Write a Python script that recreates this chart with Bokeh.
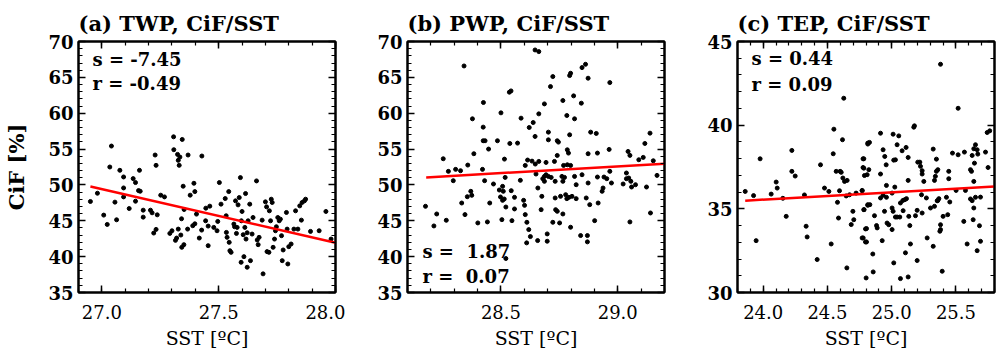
from bokeh.plotting import figure
from bokeh.layouts import row
from bokeh.models import Range1d, LinearAxis, SingleIntervalTicker, PrintfTickFormatter, Label
from bokeh.embed import file_html
from bokeh.resources import INLINE

FONT = "DejaVu Serif"

# ---------------- data ----------------
titles = ["(a) TWP, CiF/SST", "(b) PWP, CiF/SST", "(c) TEP, CiF/SST"]
x_label = "SST [\u00baC]"
y_label = "CiF [%]"
stats_s = ["s = -7.45", "s =\u00a0\u00a01.87", "s = 0.44"]
stats_r = ["r = -0.49", "r =\u00a0\u00a00.07", "r = 0.09"]

a_sst = [26.951, 26.981, 27.008, 27.023, 27.034, 27.041, 27.056, 27.063, 27.077, 27.093,
         27.093, 27.093, 27.117, 27.134, 27.144, 27.144, 27.157, 27.161, 27.164, 27.177,
         27.177, 27.208, 27.215, 27.222, 27.228, 27.232, 27.232, 27.237, 27.252, 27.268,
         27.291, 27.300, 27.307, 27.308, 27.315, 27.320, 27.327, 27.327, 27.331, 27.324,
         27.334, 27.338, 27.341, 27.344, 27.348, 27.342, 27.351, 27.352, 27.369, 27.367,
         27.378, 27.389, 27.394, 27.398, 27.398, 27.405, 27.428, 27.417, 27.427, 27.444,
         27.445, 27.455, 27.462, 27.455, 27.479, 27.493, 27.496, 27.503, 27.510, 27.528,
         27.532, 27.533, 27.536, 27.543, 27.545, 27.548, 27.553, 27.565, 27.568, 27.572,
         27.576, 27.579, 27.583, 27.588, 27.593, 27.596, 27.597, 27.600, 27.605, 27.608,
         27.612, 27.615, 27.617, 27.622, 27.622, 27.626, 27.633, 27.636, 27.643, 27.647,
         27.662, 27.665, 27.669, 27.673, 27.686, 27.690, 27.700, 27.705, 27.707, 27.715,
         27.717, 27.722, 27.725, 27.729, 27.733, 27.739, 27.743, 27.747, 27.753, 27.759,
         27.764, 27.769, 27.772, 27.776, 27.790, 27.793, 27.796, 27.800, 27.810, 27.822,
         27.829, 27.839, 27.847, 27.854, 27.857, 27.867, 27.872, 27.893, 27.930, 27.959,
         27.981]
a_cif = [47.69, 48.84, 45.79, 44.49, 52.50, 55.42, 47.60, 45.14, 52.04, 51.11,
         49.58, 48.33, 46.71, 50.88, 50.33, 47.73, 49.21, 52.04, 49.12, 45.51,
         46.48, 46.48, 46.11, 43.29, 54.17, 52.73, 43.80, 45.83, 48.57, 48.33,
         43.24, 43.61, 56.71, 54.91, 42.27, 42.59, 43.84, 53.43, 52.73, 54.26,
         53.89, 43.01, 45.28, 56.34, 49.82, 41.30, 41.67, 46.57, 54.17, 43.84,
         48.57, 44.31, 50.23, 49.07, 44.58, 45.93, 54.03, 42.59, 43.70, 45.00,
         46.76, 41.53, 47.04, 44.26, 44.08, 43.61, 44.91, 50.33, 47.32, 48.10,
         45.70, 43.38, 42.69, 49.07, 41.99, 40.83, 40.60, 44.54, 44.17, 47.78,
         43.24, 44.08, 47.22, 48.24, 51.02, 39.21, 45.00, 46.30, 43.06, 40.00,
         44.08, 48.80, 42.45, 38.52, 43.33, 45.00, 47.32, 39.44, 43.15, 45.46,
         50.56, 42.32, 41.67, 42.69, 45.09, 37.60, 47.64, 46.94, 40.70, 40.60,
         46.39, 45.00, 48.01, 47.55, 41.30, 42.45, 43.61, 44.17, 45.46, 45.00,
         45.23, 42.92, 39.44, 40.93, 46.16, 43.84, 38.98, 41.39, 41.76, 43.84,
         46.39, 43.84, 47.08, 45.09, 47.55, 47.78, 48.01, 43.52, 43.61, 46.30,
         42.45]

b_sst = [28.342, 28.425, 28.536, 28.543, 28.378, 28.500, 28.424, 28.424, 28.432, 28.485,
         28.384, 28.447, 28.538, 28.571, 28.586, 28.621, 28.638, 28.646, 28.662, 28.253,
         28.358, 28.275, 28.306, 28.327, 28.296, 28.421, 28.515, 28.604, 28.614, 28.633,
         28.647, 28.650, 28.371, 28.430, 28.375, 28.356, 28.468, 28.518, 28.583, 28.507,
         28.493, 28.510, 28.544, 28.498, 28.507, 28.514, 28.521, 28.558, 28.558, 28.597,
         28.601, 28.332, 28.346, 28.452, 28.401, 28.442, 28.504, 28.547, 28.604, 28.611,
         28.619, 28.626, 28.610, 28.657, 28.177, 28.225, 28.213, 28.266, 28.521,
         28.646, 28.662, 28.712, 28.722, 28.794, 28.798, 28.847, 28.862, 28.873, 28.966,
         28.686, 28.765, 28.811, 28.844, 28.782, 28.815, 28.703, 28.703, 28.741, 28.746,
         28.794, 28.884, 28.908, 28.784, 28.789, 28.741, 28.873, 28.913, 28.963, 29.044,
         29.052, 29.138, 29.116, 29.090, 29.109, 29.152, 29.168, 28.662, 28.693, 28.729,
         28.768, 28.784, 28.798, 28.686, 28.693, 28.703, 28.715, 28.679, 28.686, 28.732,
         28.765, 28.761, 28.772, 28.815, 28.822, 28.847, 28.873, 28.913, 28.941, 28.953,
         28.966, 28.973, 29.023, 29.037, 29.037, 29.047, 29.056, 29.059, 29.076, 29.123,
         28.937, 28.933, 28.658, 28.675, 28.672, 28.732, 28.755, 28.777, 28.782, 28.791,
         28.804, 28.822, 28.865, 28.880, 28.916, 28.734, 28.741, 28.765, 28.722, 28.751,
         28.798, 28.901, 29.052, 29.140, 28.698, 28.698, 28.841, 28.870, 28.870]
b_cif = [66.59, 61.49, 62.93, 63.11, 59.22, 60.05, 58.06, 56.16, 56.16, 56.16,
         54.35, 55.00, 55.78, 55.83, 59.31, 58.01, 58.70, 56.76, 59.91, 53.65,
         52.77, 51.89, 52.17, 51.98, 50.59, 52.17, 53.60, 52.72, 53.47, 53.32,
         52.91, 51.52, 49.11, 50.59, 48.55, 48.36, 50.13, 51.05, 50.64, 49.80,
         49.29, 49.11, 49.20, 48.32, 47.85, 48.04, 46.92, 48.27, 46.65, 47.85,
         47.15, 47.48, 45.86, 47.48, 44.70, 44.84, 45.16, 45.02, 45.86, 44.79,
         43.77, 42.80, 41.92, 42.24, 47.02, 45.95, 44.28, 45.07, 39.74,
         68.82, 68.59, 63.71, 65.11, 65.25, 65.57, 66.36, 66.82, 64.88, 64.27,
         61.30, 61.77, 62.42, 61.40, 59.68, 59.22, 57.36, 56.29, 56.16, 55.97,
         56.99, 57.36, 57.18, 54.90, 54.44, 54.11, 54.35, 54.44, 54.95, 54.67,
         54.12, 57.22, 55.78, 53.51, 53.84, 53.37, 51.33, 53.28, 53.14, 53.28,
         52.72, 52.81, 52.72, 51.19, 51.42, 51.19, 51.05, 50.87, 50.50, 50.50,
         50.50, 51.19, 51.05, 51.19, 50.03, 51.42, 50.27, 51.10, 51.10, 50.87,
         51.89, 50.27, 50.13, 51.66, 50.87, 50.96, 50.50, 49.71, 50.03, 49.71,
         49.57, 49.11, 49.57, 48.41, 46.55, 48.18, 48.41, 48.64, 48.09, 48.27,
         48.41, 48.09, 48.18, 47.25, 47.48, 46.55, 46.32, 45.95, 44.79, 44.70,
         44.10, 45.02, 44.84, 46.09, 43.17, 42.15, 42.94, 42.94, 42.06]

c_sst = [23.860, 23.925, 23.945, 23.976, 24.062, 24.101, 24.109, 24.153, 24.179, 24.223,
         24.223, 24.249, 24.321, 24.334, 24.342, 24.420, 24.446, 24.477, 24.511, 24.529,
         24.550, 24.545, 24.568, 24.578, 24.586, 24.594, 24.599, 24.607, 24.617, 24.627,
         24.620, 24.633, 24.653, 24.646, 24.672, 24.651, 24.685, 24.698, 24.705, 24.723,
         24.770, 24.777, 24.777, 24.785, 24.796, 24.770, 24.796, 24.814, 24.809, 24.814,
         24.801,
         25.380, 25.517, 25.177, 25.172, 25.763, 25.743, 24.814, 24.827, 24.913, 25.011,
         25.055, 25.042, 25.081, 25.112, 24.933, 25.323, 24.946, 25.016, 25.029, 25.128,
         25.203, 25.219, 25.348, 25.473, 25.517, 25.566, 25.626, 25.652, 25.665, 25.670,
         25.639, 25.730, 25.644, 24.957, 24.913, 25.224, 25.237, 25.237, 25.250, 25.359,
         25.348, 25.340, 25.333, 25.444, 25.444, 25.613, 25.621, 25.639, 25.750, 24.783,
         24.783, 24.822, 24.788, 24.770, 24.959, 25.128, 24.913, 24.933, 24.959, 25.003,
         25.024, 25.068, 25.087, 25.102, 25.115, 25.232, 25.270, 25.359, 25.367, 25.426,
         25.452, 25.501, 25.574, 25.613, 25.626, 25.639, 25.652, 25.691, 24.783, 24.814,
         24.830, 24.866, 24.944, 25.003, 25.011, 25.029, 25.042, 25.063, 25.089, 25.133,
         25.185, 25.198, 25.237, 25.302, 25.333, 25.354, 25.400, 25.436, 25.561, 25.634,
         24.804, 24.882, 24.887, 25.003, 24.964, 24.977, 25.141, 25.380, 25.380, 25.375,
         25.683, 24.778, 24.804, 24.926, 25.146, 25.276, 25.323, 25.587, 25.691, 25.665,
         24.853, 25.107, 25.198, 25.016, 24.856, 25.068, 25.128, 25.393]
c_cif = [36.04, 35.79, 33.10, 37.99, 35.88, 36.60, 36.24, 35.63, 34.55, 38.49,
         37.24, 36.96, 35.83, 33.96, 33.32, 31.97, 37.63, 36.24, 36.04, 32.90,
         39.76, 38.29, 37.24, 35.39, 34.45, 36.08, 37.24, 37.18, 39.13, 41.61,
         36.84, 36.64, 36.70, 35.77, 35.84, 31.47, 34.06, 34.85, 34.35, 35.94,
         36.08, 37.99, 37.47, 34.95, 33.80, 33.26, 33.02, 38.87, 37.04, 35.21,
         30.87,
         43.64, 41.01, 39.96, 39.88, 39.66, 39.56, 38.93, 38.97, 39.52, 39.46,
         39.36, 38.83, 38.47, 38.67, 38.53, 38.57, 38.13, 37.91, 37.93, 38.07,
         37.79, 37.79, 37.97, 38.33, 38.23, 38.39, 38.19, 38.83, 38.53, 38.27,
         38.59, 38.39, 37.73, 37.63, 37.08, 37.54, 37.28, 37.08, 36.64, 37.34,
         37.24, 36.94, 36.70, 37.24, 36.80, 37.34, 37.24, 36.64, 37.47, 37.99,
         37.43, 37.34, 36.99, 36.10, 36.40, 36.70, 35.65, 35.81, 35.69, 35.94,
         36.30, 35.35, 35.50, 35.55, 35.61, 35.84, 35.65, 35.50, 35.61, 35.69,
         35.41, 36.10, 36.10, 35.59, 35.49, 35.05, 35.69, 35.70, 34.95, 35.25,
         35.25, 34.59, 34.85, 35.05, 34.85, 34.51, 34.51, 34.51, 34.89, 34.55,
         34.59, 34.91, 34.75, 35.05, 35.15, 35.48, 34.55, 34.65, 34.25, 34.35,
         33.82, 34.00, 33.86, 33.76, 34.15, 34.05, 34.00, 34.05, 33.76, 33.66,
         33.99, 33.26, 33.02, 33.10, 32.90, 33.26, 32.76, 32.90, 33.06, 32.50,
         32.30, 32.37, 31.91, 31.77, 31.23, 30.83, 30.93, 31.27]

# regression lines (end points)
a_fit_x = [26.951, 28.0]
a_fit_y = [49.77, 41.95]
b_fit_x = [28.18, 29.2]
b_fit_y = [51.05, 52.96]
c_fit_x = [23.86, 25.8]
c_fit_y = [35.49, 36.34]


def make_panel(title, xs, ys, fx, fy, xr, yr, s_txt, r_txt, s_pos, r_pos,
               width, left, right, show_ylabel):
    p = figure(width=width, height=351, x_range=Range1d(*xr), y_range=Range1d(*yr),
               output_backend="svg", toolbar_location=None,
               min_border_left=left, min_border_right=right,
               min_border_top=41, min_border_bottom=58,
               x_axis_location=None, y_axis_location=None)
    p.xgrid.grid_line_color = None
    p.ygrid.grid_line_color = None
    p.outline_line_color = "black"
    p.outline_line_width = 2
    p.background_fill_color = "white"
    p.border_fill_color = "white"

    def style(ax, show_labels):
        ax.axis_line_color = "black"
        ax.axis_line_width = 2
        ax.major_tick_in = 7
        ax.major_tick_out = 0
        ax.minor_tick_in = 4
        ax.minor_tick_out = 0
        ax.major_tick_line_width = 1.5
        ax.minor_tick_line_width = 1.2
        ax.major_tick_line_color = "black"
        ax.minor_tick_line_color = "black"
        if not show_labels:
            ax.major_label_text_font_size = "0px"
            ax.major_label_standoff = 0
            ax.major_label_text_color = None

    xb = LinearAxis(ticker=SingleIntervalTicker(interval=0.5, num_minor_ticks=5),
                    formatter=PrintfTickFormatter(format="%.1f"))
    style(xb, True)
    xb.major_label_text_font = FONT
    xb.major_label_text_font_size = "18px"
    xb.major_label_text_color = "black"
    xb.major_label_standoff = 12
    xb.axis_label = x_label
    xb.axis_label_text_font = FONT
    xb.axis_label_text_font_size = "19px"
    xb.axis_label_text_font_style = "normal"
    xb.axis_label_text_color = "black"
    xb.axis_label_standoff = 5
    p.add_layout(xb, "below")

    xt = LinearAxis(ticker=SingleIntervalTicker(interval=0.5, num_minor_ticks=5))
    style(xt, False)
    p.add_layout(xt, "above")

    yl = LinearAxis(ticker=SingleIntervalTicker(interval=5, num_minor_ticks=5))
    style(yl, True)
    yl.major_label_text_font = FONT
    yl.major_label_text_font_size = "18px"
    yl.major_label_text_font_style = "bold"
    yl.major_label_text_color = "black"
    yl.major_label_standoff = 5
    if show_ylabel:
        yl.axis_label = y_label
        yl.axis_label_text_font = FONT
        yl.axis_label_text_font_size = "21px"
        yl.axis_label_text_font_style = "bold"
        yl.axis_label_text_color = "black"
        yl.axis_label_standoff = 16
    p.add_layout(yl, "left")

    yr_ax = LinearAxis(ticker=SingleIntervalTicker(interval=5, num_minor_ticks=5))
    style(yr_ax, False)
    p.add_layout(yr_ax, "right")

    p.title.text = title
    p.title.text_font = FONT
    p.title.text_font_size = "21px"
    p.title.text_font_style = "bold"
    p.title.align = "left"
    p.title.text_color = "black"
    p.title.standoff = 12

    p.scatter(xs, ys, size=4, color="black", marker="circle")
    p.line(fx, fy, line_color="#ff0000", line_width=2.5)

    for txt, pos in ((s_txt, s_pos), (r_txt, r_pos)):
        p.add_layout(Label(x=pos[0], y=pos[1], text=txt, text_font=FONT,
                           text_font_size="18px", text_font_style="bold",
                           text_baseline="middle", text_color="black"))
    return p


pa = make_panel(titles[0], a_sst, a_cif, a_fit_x, a_fit_y, (26.9, 28.0), (35, 70),
                stats_s[0], stats_r[0], (26.96, 67.45), (26.96, 64.1),
                345, 78, 10, True)
pb = make_panel(titles[1], b_sst, b_cif, b_fit_x, b_fit_y, (28.1, 29.2), (35, 70),
                stats_s[1], stats_r[1], (28.164, 40.66), (28.164, 37.18),
                330, 62, 11, False)
pc = make_panel(titles[2], c_sst, c_cif, c_fit_x, c_fit_y, (23.8, 25.8), (30, 45),
                stats_s[2], stats_r[2], (23.909, 43.96), (23.909, 42.42),
                321, 62, 2, False)

layout = row(pa, pb, pc)
open("out.html", "w").write(file_html(layout, INLINE))
